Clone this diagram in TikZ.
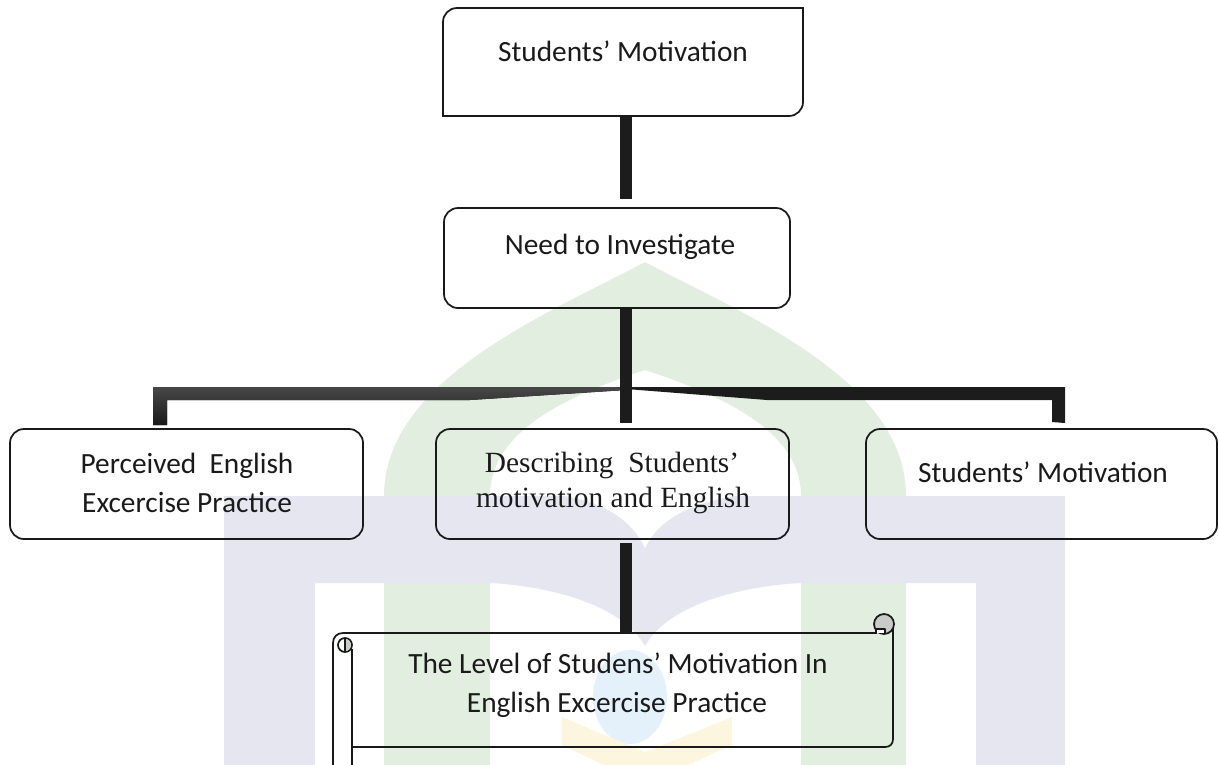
\documentclass[tikz,border=0pt]{standalone}
\usepackage{fontspec}
\setmainfont{Carlito}
\newfontfamily\timesfont{Liberation Serif}
\usetikzlibrary{calc}

\definecolor{wmgreen}{RGB}{226,239,224}
\definecolor{wmlav}{RGB}{230,230,240}
\definecolor{wmblue}{RGB}{228,241,250}
\definecolor{wmyellow}{RGB}{253,246,222}
\definecolor{barblack}{RGB}{28,28,28}
\definecolor{curlgray}{RGB}{200,203,200}
\definecolor{txt}{RGB}{26,26,26}

\tikzset{
  box/.style={draw=black!90, line width=1.3pt, rounded corners=10.5pt, inner sep=0pt},
  outline/.style={draw=black!90, line width=1.3pt},
  lbl/.style={anchor=base, inner sep=0pt, text=txt, font=\fontsize{22pt}{26pt}\selectfont},
  lblserif/.style={anchor=base, inner sep=0pt, text=txt, font=\timesfont\fontsize{22pt}{26pt}\selectfont},
  bar/.style={line width=9pt, draw=barblack},
}

\begin{document}
\begin{tikzpicture}[x=0.75pt, y=-0.75pt, line join=round]
\useasboundingbox (0,0) rectangle (1219,764);

% ---- faint emblem in the background ----
\begin{scope}
  \clip (0,0) rectangle (1219,764);
  % green dome with its two pillars
  \fill[wmgreen, even odd rule]
    (384,780) -- (384,496) .. controls (384,380) and (545,315) .. (645,262)
              .. controls (745,315) and (906,380) .. (906,496) -- (906,780) -- cycle
    (490,780) -- (490,496) .. controls (490,430) and (570,395) .. (645,370)
              .. controls (720,395) and (801,430) .. (801,496) -- (801,780) -- cycle;
  % lavender frame
  \fill[wmlav, even odd rule] (224,496) rectangle (1065,780) (315,583) rectangle (976,780);
  % drop under the frame
  \fill[wmlav] (492,583) .. controls (565,588) and (625,610) .. (645,646)
               .. controls (665,610) and (725,588) .. (799,583) -- cycle;
  % notch at the top of the frame
  \fill[white] (565,496) .. controls (605,503) and (632,520) .. (645,548)
               .. controls (658,520) and (690,503) .. (735,496) -- cycle;
  % globe and open book
  \fill[wmblue] (630,697) ellipse [x radius=37, y radius=47];
  \fill[wmyellow] (562,717) -- (645,752) -- (732,717) -- (732,745) -- (645,785) -- (562,745) -- cycle;
\end{scope}

% ---- boxes ----
% top box: rounded at top left and bottom right, square at the other two corners
\node[box, minimum width=270pt, minimum height=81pt] (top) at (623,62) {};
\fill[white] (786,6) rectangle (805.5,25);
\draw[outline, line join=miter] (785,8) -- (803,8) -- (803,27);
\fill[white] (441,97) rectangle (460,118);
\draw[outline, line join=miter] (443,96) -- (443,116) -- (461,116);

\node[box, minimum width=259.5pt, minimum height=75pt] (need) at (617,258) {};
\node[box, minimum width=264.75pt, minimum height=82.5pt] (left) at (186.5,484) {};
\node[box, minimum width=264.75pt, minimum height=82.5pt] (mid) at (612.5,484) {};
\node[box, minimum width=263.25pt, minimum height=82.5pt] (right) at (1041.5,484) {};
\node[inner sep=0pt, minimum width=420pt, minimum height=85.5pt] (scroll) at (613,690) {};

% scroll outline
\draw[outline] (333,775) -- (333,643) .. controls (333,637) and (337,633) .. (343,633) -- (877,633);
\draw[outline] (893,625) -- (893,739) .. controls (893,744) and (890,747) .. (885,747) -- (352,747);
\draw[outline] (352,649) -- (352,775);
\draw[outline, fill=white] (345,645) circle[radius=7];
\fill[curlgray] (345,639) .. controls (349,639) and (351,642) .. (351,645)
  .. controls (351,648) and (349,651) .. (345,651) -- cycle;
\draw[outline] (345,638) -- (345,652);
\draw[outline, fill=curlgray] (884,624) circle[radius=10];
\draw[outline, fill=white, line width=1pt] (876,633) -- (876,629) -- (885,629) -- (885,633);

% ---- connectors ----
\coordinate (hub) at (626,387);
\draw[bar, shorten >=6pt] (top.south -| hub) -- (hub |- need.north);
\fill[top color=black!72, bottom color=black!90]
  (hub) -- (153,387) -- (153,425) -- (167,425) -- (167,400) -- (470,400) -- (626,390) -- cycle;
\fill[barblack]
  (hub) -- (1065,387) -- (1065,423) -- (1052,422) -- (1052,400) -- (767,400) -- (626,389) -- cycle;
\draw[bar, shorten >=3.75pt] (need.south -| hub) -- (hub |- mid.north);
\draw[bar, shorten <=2.25pt] (mid.south -| hub) -- (hub |- scroll.north);

% ---- labels ----
\node[lbl] (topT) at (623,61) {Students’ Motivation};
\node[lbl] (needT) at (620,254) {Need to Investigate};
\node[lbl] (leftA) at (187,473) {Perceived\ \ English};
\node[lbl] (leftB) at (187,512) {Excercise Practice};
\node[lblserif] (midA) at (612,472) {Describing\ \ Students’};
\node[lblserif] (midB) at (613,507) {motivation and English};
\node[lbl] (rightT) at (1043,482) {Students’ Motivation};
\node[lbl] (scrollA) at (618,673) {The Level of Studens’ Motivation In};
\node[lbl] (scrollB) at (617,712) {English Excercise Practice};
\end{tikzpicture}
\end{document}
